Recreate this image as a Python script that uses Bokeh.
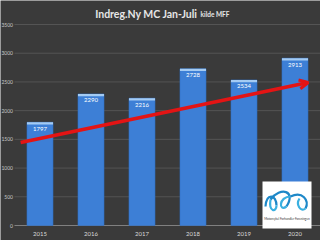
from bokeh.plotting import figure
from bokeh.models import ColumnDataSource, Arrow, OpenHead
from bokeh.core.properties import value
from bokeh.embed import file_html
from bokeh.resources import INLINE

# ---- data ----
years = ["2015", "2016", "2017", "2018", "2019", "2020"]
registrations = [1797, 2290, 2216, 2728, 2534, 2913]
y_ticks = [0, 500, 1000, 1500, 2000, 2500, 3000, 3500]
trend_x = [-0.38, 5.26]
trend_y = [1446, 2490]
title_main = "Indreg.Ny MC Jan-Juli"
title_sub = "kilde MFF"
logo_text = "Motorcykel Forhandler Foreningen"

BG = "#3a3a3a"
FONT = "Lato"

# layout: the frame fills the whole canvas; value axis 0..3500 spans px 225..24
UPP = 3500 / 201.0          # value units per pixel
PXC = 51.0                  # pixels per category
def dx(s):
    return (s - 39.5) / PXC
def dy(s):
    return (225 - s) * UPP

xs = list(range(len(years)))
p = figure(width=320, height=240, x_range=(dx(0), dx(320)),
           y_range=(dy(240), dy(0)), x_axis_type=None, y_axis_type=None,
           output_backend="svg", toolbar_location=None,
           min_border_left=0, min_border_right=0, min_border_top=0,
           min_border_bottom=0)
p.background_fill_color = BG
p.border_fill_color = BG
p.outline_line_color = None
p.grid.visible = False

# grid lines (value ticks) from left edge of category area to the right
p.segment(x0=[-0.5] * len(y_ticks[1:]), x1=[5.5] * len(y_ticks[1:]),
          y0=y_ticks[1:], y1=y_ticks[1:], line_color="#545454", line_width=1)
# category axis baseline
p.segment(x0=[-0.5], x1=[5.5], y0=[0], y1=[0], line_color="#808080",
          line_width=1)

# value tick labels
p.text(x=[dx(12.5)] * len(y_ticks), y=y_ticks, text=[str(v) for v in y_ticks],
       text_align="right", text_baseline="middle", text_font=value(FONT),
       text_font_size="5px", text_color="#c8c8c8")
# category tick labels
p.text(x=xs, y=[dy(233)] * len(xs), text=years, text_align="center",
       text_baseline="middle", text_font=value(FONT), text_font_size="6px",
       text_color="#d9d9d9")

# bars
src = ColumnDataSource(dict(x=xs, top=registrations,
                            cap=[v - 2.2 * UPP for v in registrations],
                            lab=[str(v) for v in registrations],
                            laby=[v - 6.5 * UPP for v in registrations]))
p.vbar(x="x", top="top", bottom=0, width=0.51, source=src,
       fill_color="#3d7fd6", line_color="#3070c4", line_width=0.6)
p.vbar(x="x", top="top", bottom="cap", width=0.51, source=src,
       fill_color="#a4cbf3", line_color=None)
p.text(x="x", y="laby", text="lab", source=src, text_align="center",
       text_baseline="middle", text_color="white", text_font=value(FONT),
       text_font_size="6px")

# trend arrow
p.add_layout(Arrow(x_start=trend_x[0], y_start=trend_y[0],
                   x_end=trend_x[1], y_end=trend_y[1],
                   line_color="#e41414", line_width=3.5,
                   end=OpenHead(size=9, line_color="#e41414", line_width=3)))

# title
p.text(x=[dx(197)], y=[dy(13.5)], text=[title_main], text_align="right",
       text_baseline="alphabetic", text_font=value(FONT),
       text_font_style="bold", text_font_size="10.5px", text_color="#e6e6e6")
p.text(x=[dx(200)], y=[dy(13.5)], text=[title_sub], text_align="left",
       text_baseline="alphabetic", text_font=value(FONT),
       text_font_style="bold", text_font_size="6.5px", text_color="#e6e6e6")

# logo (decoration)
p.quad(left=[dx(262)], right=[dx(311)], top=[dy(181)], bottom=[dy(228)],
       fill_color="white", line_color=None, level="overlay")
curves = [
    ((265, 206), (266, 192), (276, 194), (276, 205), "#1e88c8"),
    ((276, 205), (276, 212), (268, 212), (270, 199), "#3ab0e0"),
    ((270, 199), (280, 186), (296, 190), (286, 206), "#1e88c8"),
    ((286, 206), (278, 212), (278, 196), (290, 196), "#3ab0e0"),
    ((290, 196), (302, 190), (309, 200), (305, 208), "#1e88c8"),
    ((305, 208), (300, 212), (295, 204), (299, 198), "#3ab0e0"),
]
for a, c0, c1, b, col in curves:
    p.bezier(x0=[dx(a[0])], y0=[dy(a[1])], x1=[dx(b[0])], y1=[dy(b[1])],
             cx0=[dx(c0[0])], cy0=[dy(c0[1])], cx1=[dx(c1[0])], cy1=[dy(c1[1])],
             line_color=col, line_width=2.2, level="overlay")
p.text(x=[dx(286.5)], y=[dy(218)], text=[logo_text], text_align="center",
       text_baseline="middle", text_font=value(FONT), text_font_size="3px",
       text_color="#333333", level="overlay")

open("out.html", "w").write(file_html(p, INLINE))
